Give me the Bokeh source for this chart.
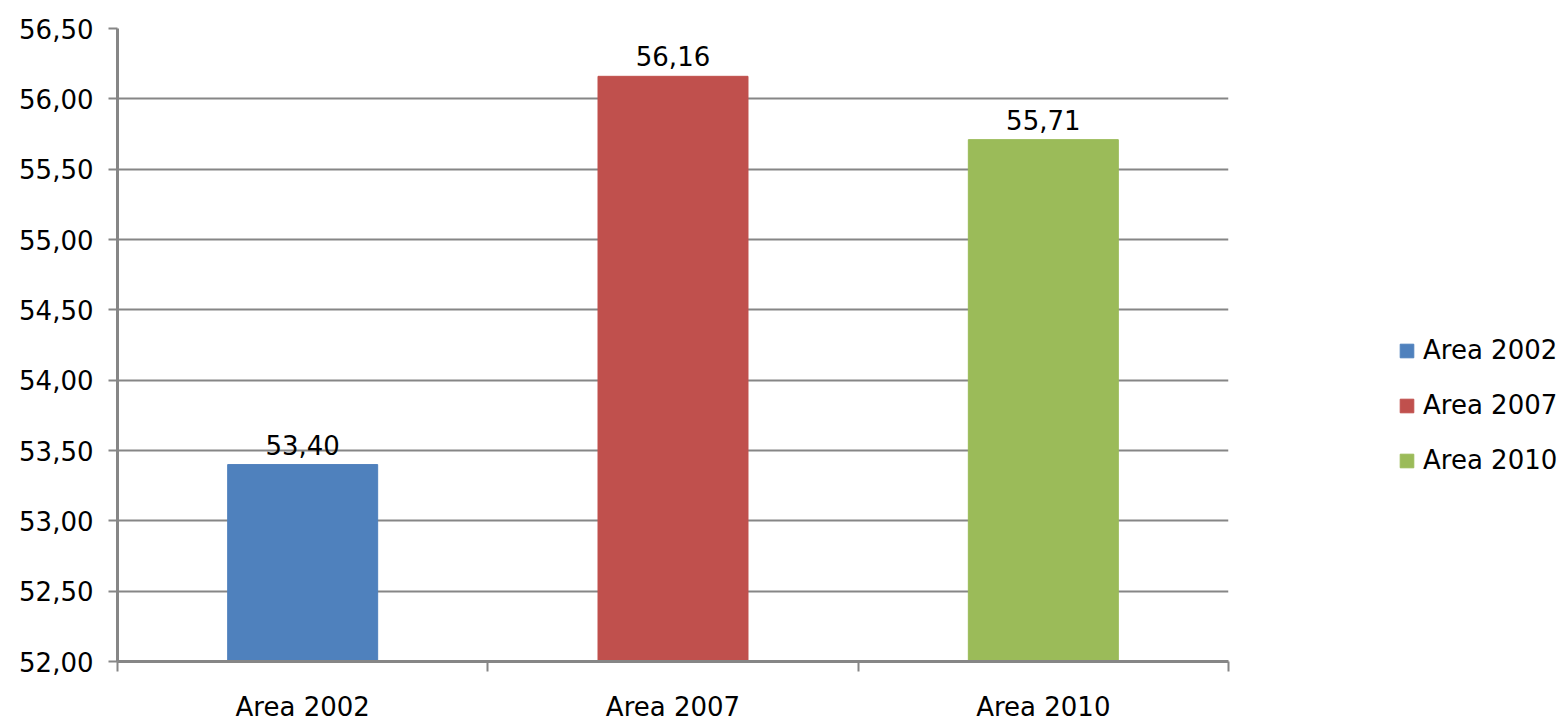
from bokeh.plotting import figure
from bokeh.models import (ColumnDataSource, Range1d, FixedTicker, LinearAxis, LabelSet,
                          Legend, LegendItem, CustomJSTickFormatter, Grid)
from bokeh.core.properties import value
from bokeh.embed import file_html
from bokeh.resources import INLINE

categories = ["Area 2002", "Area 2007", "Area 2010"]
values = [53.40, 56.16, 55.71]
colors = ["#4F81BD", "#C0504D", "#9BBB59"]
y_ticks = [52.0, 52.5, 53.0, 53.5, 54.0, 54.5, 55.0, 55.5, 56.0, 56.5]

FONT = "DejaVu Sans"
FS = "26px"
GRID = "#868686"

xs = [i + 0.5 for i in range(len(categories))]
src = ColumnDataSource(dict(
    x=xs, top=values, color=colors, cat=categories,
    label=[f"{v:.2f}".replace(".", ",") for v in values],
))

p = figure(output_backend="svg", toolbar_location=None,
           frame_width=1111, frame_height=633,
           min_border_left=117, min_border_right=330,
           min_border_top=28, min_border_bottom=10,
           x_range=Range1d(0, len(categories)), y_range=Range1d(52, 56.5),
           x_axis_type=None, y_axis_type=None)
p.outline_line_color = None
p.background_fill_color = "white"
p.border_fill_color = "white"

# y axis
yax = LinearAxis(ticker=FixedTicker(ticks=y_ticks),
                 formatter=CustomJSTickFormatter(code="return tick.toFixed(2).replace('.', ',');"))
yax.axis_line_color = GRID
yax.axis_line_width = 3
yax.major_tick_line_color = GRID
yax.major_tick_line_width = 2
yax.major_tick_out = 9
yax.major_tick_in = 0
yax.minor_tick_line_color = None
yax.major_label_standoff = 15
yax.major_label_text_font = FONT
yax.major_label_text_font_size = FS
yax.major_label_text_color = "black"
p.add_layout(yax, "left")

# x axis: boundary ticks
xtick = LinearAxis(ticker=FixedTicker(ticks=list(range(len(categories) + 1))))
xtick.axis_line_color = GRID
xtick.axis_line_width = 3
xtick.major_tick_line_color = GRID
xtick.major_tick_line_width = 2
xtick.major_tick_out = 10
xtick.major_tick_in = 0
xtick.minor_tick_line_color = None
xtick.major_label_overrides = {i: "" for i in range(len(categories) + 1)}
xtick.major_label_text_font_size = "1px"
xtick.major_label_standoff = 0
p.add_layout(xtick, "below")

# x axis: category labels
xlab = LinearAxis(ticker=FixedTicker(ticks=xs))
xlab.axis_line_color = None
xlab.major_tick_line_color = None
xlab.minor_tick_line_color = None
xlab.major_label_overrides = {x: c for x, c in zip(xs, categories)}
xlab.major_label_standoff = 14
xlab.major_label_text_font = FONT
xlab.major_label_text_font_size = FS
xlab.major_label_text_color = "black"
p.add_layout(xlab, "below")

p.add_layout(Grid(dimension=1, ticker=FixedTicker(ticks=y_ticks),
                  grid_line_color=GRID, grid_line_width=2))

r = p.vbar(x="x", top="top", bottom=52, width=0.405, color="color", source=src)

labels = LabelSet(x="x", y="top", text="label", source=src, text_align="center",
                  text_baseline="alphabetic", y_offset=10, text_font=value(FONT),
                  text_font_size=value(FS), text_color="black")
p.add_layout(labels)

items = [LegendItem(label=c, renderers=[r], index=i) for i, c in enumerate(categories)]
legend = Legend(items=items, location=(170, 186), border_line_color=None,
                background_fill_alpha=0, padding=0, margin=0, spacing=25,
                glyph_width=17, glyph_height=17, label_height=20, label_standoff=8,
                label_text_font=FONT, label_text_font_size=FS, label_text_color="black")
p.add_layout(legend, "right")

open("out.html", "w").write(file_html(p, INLINE))
